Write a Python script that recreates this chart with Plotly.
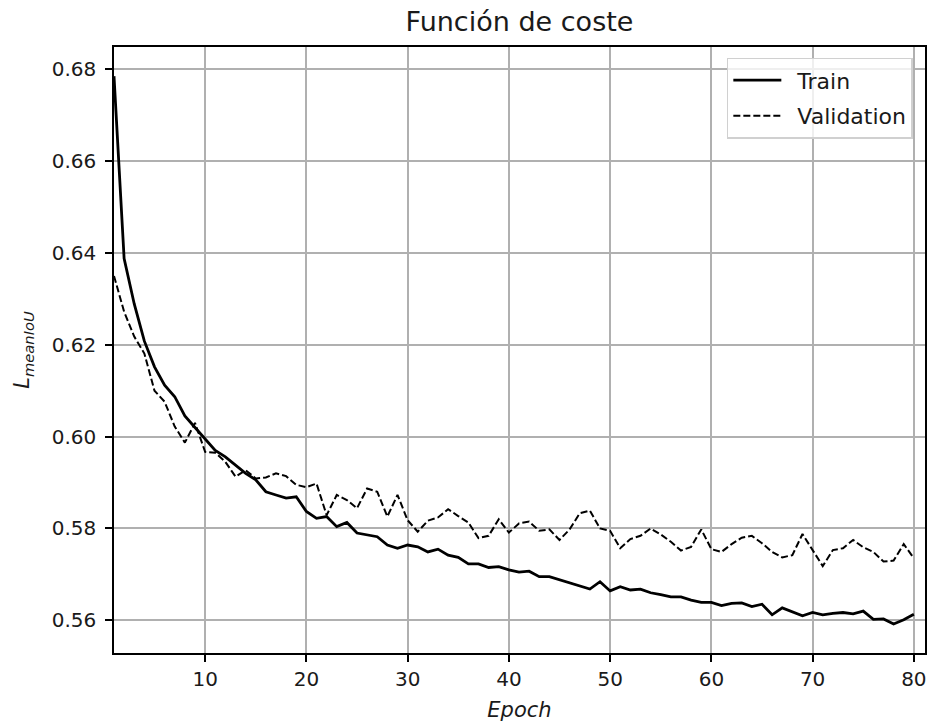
import plotly.graph_objects as go

epochs = list(range(1, 81))

train_loss = [
    0.6785, 0.6388, 0.6289, 0.6208, 0.6152, 0.6112, 0.6087, 0.6045, 0.6020, 0.5996,
    0.5970, 0.5956, 0.5938, 0.5920, 0.5906, 0.5880, 0.5873, 0.5866, 0.5869, 0.5837,
    0.5822, 0.5826, 0.5804, 0.5813, 0.5790, 0.5786, 0.5782, 0.5764, 0.5757, 0.5764,
    0.5760, 0.5749, 0.5755, 0.5742, 0.5737, 0.5723, 0.5723, 0.5715, 0.5717, 0.5710,
    0.5705, 0.5707, 0.5695, 0.5695, 0.5688, 0.5681, 0.5675, 0.5668, 0.5684, 0.5664,
    0.5673, 0.5666, 0.5668, 0.5660, 0.5656, 0.5651, 0.5651, 0.5644, 0.5639, 0.5639,
    0.5632, 0.5637, 0.5638, 0.5630, 0.5635, 0.5612, 0.5627, 0.5619, 0.5610, 0.5617,
    0.5612, 0.5615, 0.5617, 0.5614, 0.5620, 0.5602, 0.5603, 0.5592, 0.5601, 0.5613,
]

val_loss = [
    0.6350, 0.6272, 0.6218, 0.6181, 0.6100, 0.6076, 0.6022, 0.5987, 0.6030, 0.5967,
    0.5965, 0.5945, 0.5913, 0.5927, 0.5909, 0.5911, 0.5920, 0.5914, 0.5895, 0.5890,
    0.5898, 0.5829, 0.5873, 0.5862, 0.5844, 0.5887, 0.5880, 0.5826, 0.5873, 0.5818,
    0.5793, 0.5817, 0.5824, 0.5842, 0.5827, 0.5813, 0.5779, 0.5784, 0.5820, 0.5791,
    0.5811, 0.5815, 0.5795, 0.5798, 0.5775, 0.5798, 0.5833, 0.5839, 0.5800, 0.5795,
    0.5757, 0.5777, 0.5784, 0.5800, 0.5787, 0.5771, 0.5752, 0.5760, 0.5798, 0.5755,
    0.5749, 0.5766, 0.5780, 0.5784, 0.5768, 0.5749, 0.5737, 0.5742, 0.5788, 0.5753,
    0.5718, 0.5753, 0.5757, 0.5775, 0.5759, 0.5749, 0.5728, 0.5730, 0.5766, 0.5735,
]

x_ticks = [10, 20, 30, 40, 50, 60, 70, 80]
y_ticks = [0.56, 0.58, 0.60, 0.62, 0.64, 0.66, 0.68]
y_tick_labels = ["0.56", "0.58", "0.60", "0.62", "0.64", "0.66", "0.68"]

FONT = "DejaVu Sans"
TXT = "#1a1a1a"
GAP = "\u2002"  # spacing between legend line sample and label

fig = go.Figure()
fig.add_trace(go.Scatter(
    x=epochs, y=train_loss, mode="lines", name=GAP + "Train", legendgroup="train",
    line=dict(color="black", width=2.8),
))
fig.add_trace(go.Scatter(
    x=epochs, y=val_loss, mode="lines", name=GAP + "Validation", legendgroup="val",
    line=dict(color="black", width=2, dash="7px,3px"),
))

axis_common = dict(
    showline=True, linecolor="black", linewidth=1.6, mirror=True,
    showgrid=True, gridcolor="#b0b0b0", gridwidth=1.6,
    zeroline=False, ticks="outside", ticklen=7, tickwidth=1.6, tickcolor="black",
    tickfont=dict(family=FONT, size=20, color=TXT),
)

fig.update_xaxes(
    range=[1, 81.1], tickvals=x_ticks,
    title=dict(text="<i>Epoch</i>", font=dict(family=FONT, size=21, color=TXT), standoff=13),
    **axis_common,
)
fig.update_yaxes(
    range=[0.55288, 0.68486], tickvals=y_ticks, ticktext=y_tick_labels,
    ticklabelstandoff=5,
    title=dict(text="<i>L</i><sub><i>meanIoU</i></sub>", font=dict(family=FONT, size=21, color=TXT), standoff=16),
    **axis_common,
)

fig.update_layout(
    width=931, height=724,
    margin=dict(l=114, r=6, t=47, b=71, autoexpand=False),
    plot_bgcolor="white", paper_bgcolor="white",
    title=dict(text="Función de coste", x=0.5, xref="paper", y=1 - 22 / 724, yref="container",
               yanchor="middle", font=dict(family=FONT, size=27, color=TXT)),
    legend=dict(
        x=0.985, y=0.982, xanchor="right", yanchor="top",
        bgcolor="rgba(255,255,255,0.8)", bordercolor="#d0d0d0", borderwidth=1.5,
        font=dict(family=FONT, size=22, color=TXT),
        itemwidth=48, tracegroupgap=4,
    ),
    showlegend=True,
)

fig.write_html("out.html")
